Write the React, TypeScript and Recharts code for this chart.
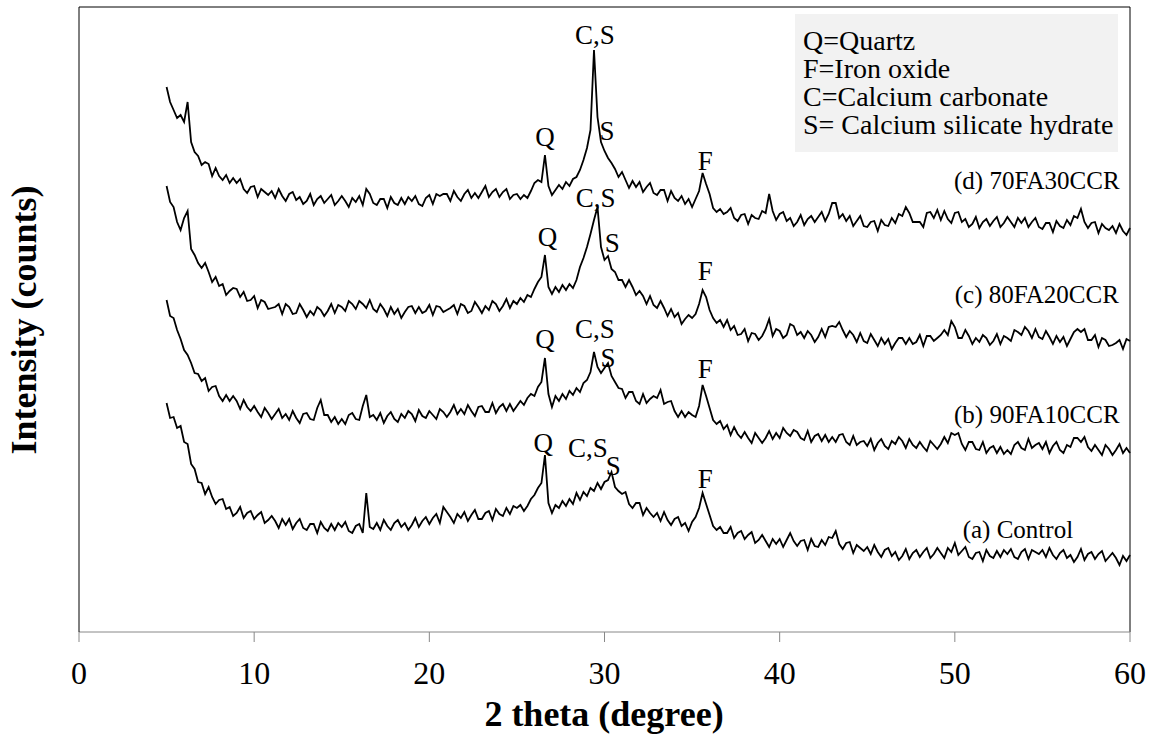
import { LineChart, Line, XAxis, YAxis, ReferenceLine, ReferenceDot } from "recharts";

// scan grid, 2 theta in degrees
const twoTheta = [
  5, 5.2, 5.4, 5.6, 5.8, 6, 6.2, 6.4, 6.6, 6.8,
  7, 7.2, 7.4, 7.6, 7.8, 8, 8.2, 8.4, 8.6, 8.8,
  9, 9.2, 9.4, 9.6, 9.8, 10, 10.2, 10.4, 10.6, 10.8,
  11, 11.2, 11.4, 11.6, 11.8, 12, 12.2, 12.4, 12.6, 12.8,
  13, 13.2, 13.4, 13.6, 13.8, 14, 14.2, 14.4, 14.6, 14.8,
  15, 15.2, 15.4, 15.6, 15.8, 16, 16.2, 16.4, 16.6, 16.8,
  17, 17.2, 17.4, 17.6, 17.8, 18, 18.2, 18.4, 18.6, 18.8,
  19, 19.2, 19.4, 19.6, 19.8, 20, 20.2, 20.4, 20.6, 20.8,
  21, 21.2, 21.4, 21.6, 21.8, 22, 22.2, 22.4, 22.6, 22.8,
  23, 23.2, 23.4, 23.6, 23.8, 24, 24.2, 24.4, 24.6, 24.8,
  25, 25.2, 25.4, 25.6, 25.8, 26, 26.2, 26.4, 26.6, 26.8,
  27, 27.2, 27.4, 27.6, 27.8, 28, 28.2, 28.4, 28.6, 28.8,
  29, 29.2, 29.4, 29.6, 29.8, 30, 30.2, 30.4, 30.6, 30.8,
  31, 31.2, 31.4, 31.6, 31.8, 32, 32.2, 32.4, 32.6, 32.8,
  33, 33.2, 33.4, 33.6, 33.8, 34, 34.2, 34.4, 34.6, 34.8,
  35, 35.2, 35.4, 35.6, 35.8, 36, 36.2, 36.4, 36.6, 36.8,
  37, 37.2, 37.4, 37.6, 37.8, 38, 38.2, 38.4, 38.6, 38.8,
  39, 39.2, 39.4, 39.6, 39.8, 40, 40.2, 40.4, 40.6, 40.8,
  41, 41.2, 41.4, 41.6, 41.8, 42, 42.2, 42.4, 42.6, 42.8,
  43, 43.2, 43.4, 43.6, 43.8, 44, 44.2, 44.4, 44.6, 44.8,
  45, 45.2, 45.4, 45.6, 45.8, 46, 46.2, 46.4, 46.6, 46.8,
  47, 47.2, 47.4, 47.6, 47.8, 48, 48.2, 48.4, 48.6, 48.8,
  49, 49.2, 49.4, 49.6, 49.8, 50, 50.2, 50.4, 50.6, 50.8,
  51, 51.2, 51.4, 51.6, 51.8, 52, 52.2, 52.4, 52.6, 52.8,
  53, 53.2, 53.4, 53.6, 53.8, 54, 54.2, 54.4, 54.6, 54.8,
  55, 55.2, 55.4, 55.6, 55.8, 56, 56.2, 56.4, 56.6, 56.8,
  57, 57.2, 57.4, 57.6, 57.8, 58, 58.2, 58.4, 58.6, 58.8,
  59, 59.2, 59.4, 59.6, 59.8, 60,
];

// (a) Control
const control = [
  229, 214, 215, 204, 206, 190, 188, 168, 163, 150,
  149, 138, 145, 135, 128, 132, 133, 123, 125, 116,
  119, 125, 114, 119, 121, 113, 117, 120, 109, 112,
  116, 111, 104, 113, 107, 113, 103, 109, 113, 104,
  102, 108, 108, 99, 110, 104, 101, 108, 102, 109,
  105, 110, 101, 99, 106, 108, 99, 139, 105, 103,
  109, 102, 112, 106, 102, 109, 112, 105, 109, 102,
  107, 114, 105, 111, 115, 108, 114, 118, 109, 125,
  120, 115, 109, 118, 114, 120, 111, 117, 122, 113,
  113, 119, 121, 112, 123, 118, 116, 124, 118, 126,
  124, 127, 121, 126, 133, 137, 144, 149, 177, 129,
  119, 127, 124, 131, 126, 133, 128, 139, 132, 140,
  136, 144, 141, 149, 143, 150, 152, 160, 145, 141,
  138, 140, 128, 124, 129, 129, 117, 124, 119, 115,
  119, 111, 120, 112, 107, 113, 115, 106, 109, 101,
  110, 115, 124, 139, 128, 117, 106, 102, 105, 99,
  99, 105, 94, 99, 101, 93, 97, 100, 89, 92,
  97, 91, 85, 93, 88, 93, 85, 92, 99, 91,
  86, 91, 92, 82, 93, 86, 85, 92, 87, 95,
  94, 101, 88, 83, 89, 90, 79, 87, 84, 81,
  85, 78, 87, 80, 75, 82, 84, 76, 80, 72,
  76, 83, 73, 79, 82, 75, 80, 84, 74, 78,
  84, 79, 74, 84, 80, 89, 77, 81, 85, 75,
  73, 79, 80, 71, 82, 76, 74, 81, 75, 82,
  78, 83, 75, 73, 80, 83, 73, 82, 80, 78,
  82, 75, 84, 77, 73, 79, 82, 74, 77, 70,
  75, 83, 72, 78, 80, 73, 78, 81, 71, 75,
  79, 74, 67, 76, 71, 77,
];

// (b) 90FA10CCR
const fa90 = [
  332, 316, 314, 302, 293, 282, 277, 269, 259, 258,
  251, 254, 241, 245, 246, 236, 231, 237, 231, 236,
  231, 223, 232, 225, 221, 226, 220, 215, 224, 219,
  213, 218, 223, 214, 218, 212, 221, 214, 209, 218,
  219, 213, 212, 224, 232, 217, 217, 210, 215, 208,
  213, 208, 217, 219, 213, 212, 226, 237, 215, 217,
  212, 219, 209, 216, 220, 213, 210, 218, 214, 221,
  218, 211, 222, 216, 214, 221, 217, 213, 223, 220,
  215, 220, 227, 218, 223, 218, 227, 221, 216, 225,
  226, 220, 220, 229, 219, 225, 228, 221, 228, 221,
  226, 231, 227, 234, 238, 236, 245, 250, 274, 238,
  225, 236, 231, 238, 233, 241, 237, 244, 240, 249,
  252, 260, 280, 265, 259, 264, 269, 256, 250, 244,
  243, 234, 240, 240, 231, 228, 238, 229, 233, 236,
  234, 242, 228, 230, 231, 221, 215, 221, 215, 220,
  217, 215, 226, 247, 236, 224, 212, 208, 211, 203,
  207, 197, 205, 198, 194, 200, 194, 189, 199, 194,
  189, 194, 201, 193, 199, 194, 204, 199, 196, 202,
  200, 194, 192, 201, 190, 196, 198, 191, 197, 190,
  195, 190, 197, 198, 190, 187, 196, 187, 190, 191,
  186, 193, 182, 189, 193, 186, 183, 191, 188, 195,
  191, 184, 193, 187, 184, 190, 185, 181, 191, 187,
  183, 188, 195, 189, 199, 197, 199, 188, 182, 190,
  190, 183, 182, 190, 179, 184, 186, 179, 185, 178,
  182, 178, 187, 190, 184, 182, 193, 184, 187, 189,
  183, 190, 179, 186, 190, 182, 179, 187, 185, 194,
  194, 190, 195, 185, 181, 187, 182, 177, 187, 183,
  177, 182, 188, 179, 184, 179,
];

// (c) 80FA20CCR
const fa80 = [
  446, 430, 425, 410, 402, 414, 421, 383, 377, 369,
  364, 369, 360, 350, 355, 346, 348, 337, 341, 344,
  343, 335, 340, 331, 332, 336, 324, 332, 330, 323,
  324, 325, 328, 318, 328, 325, 318, 319, 328, 322,
  315, 321, 317, 325, 322, 316, 321, 328, 319, 327,
  325, 321, 331, 328, 323, 331, 328, 324, 332, 323,
  320, 328, 323, 316, 325, 318, 323, 314, 320, 325,
  326, 319, 325, 319, 321, 327, 317, 326, 325, 320,
  322, 324, 327, 318, 328, 326, 319, 321, 330, 325,
  319, 326, 322, 331, 328, 321, 326, 333, 324, 331,
  328, 334, 330, 337, 335, 343, 350, 355, 377, 345,
  338, 345, 340, 347, 342, 348, 344, 352, 365, 374,
  385, 398, 412, 425, 385, 372, 376, 363, 360, 352,
  352, 345, 352, 345, 337, 341, 336, 328, 336, 327,
  324, 331, 324, 316, 323, 315, 319, 308, 313, 317,
  314, 318, 328, 342, 335, 322, 314, 309, 312, 305,
  312, 302, 306, 297, 298, 303, 291, 299, 298, 292,
  296, 303, 313, 296, 303, 301, 294, 297, 308, 306,
  297, 300, 294, 301, 297, 290, 295, 303, 295, 305,
  306, 305, 310, 302, 295, 301, 297, 290, 299, 291,
  289, 298, 292, 286, 294, 288, 293, 283, 289, 294,
  294, 288, 294, 288, 290, 297, 286, 296, 296, 291,
  294, 297, 302, 297, 311, 305, 294, 294, 302, 296,
  288, 294, 290, 297, 294, 287, 291, 298, 288, 296,
  294, 291, 302, 300, 297, 305, 301, 294, 303, 295,
  293, 301, 295, 288, 296, 290, 295, 286, 293, 300,
  303, 300, 303, 292, 292, 297, 285, 294, 292, 286,
  287, 289, 292, 283, 293, 291,
];

// (d) 70FA30CCR
const fa70 = [
  545, 530, 522, 514, 517, 510, 530, 490, 480, 476,
  467, 470, 468, 456, 464, 456, 452, 457, 449, 454,
  449, 453, 443, 439, 445, 446, 435, 443, 440, 437,
  441, 434, 443, 436, 431, 438, 440, 432, 435, 428,
  431, 438, 427, 433, 436, 429, 433, 437, 427, 431,
  436, 431, 425, 434, 430, 436, 427, 443, 438, 429,
  427, 433, 433, 424, 435, 429, 427, 434, 428, 435,
  431, 436, 428, 426, 434, 437, 428, 438, 436, 438,
  438, 431, 441, 435, 431, 438, 442, 434, 439, 434,
  440, 446, 435, 440, 443, 435, 440, 443, 433, 437,
  438, 433, 437, 434, 441, 449, 452, 450, 477, 446,
  437, 442, 447, 443, 450, 446, 453, 455, 462, 472,
  484, 502, 582, 515, 490, 481, 474, 469, 463, 455,
  460, 452, 444, 451, 445, 450, 440, 445, 449, 439,
  437, 442, 442, 431, 441, 434, 431, 436, 428, 433,
  425, 433, 441, 459, 448, 438, 424, 420, 423, 418,
  420, 424, 414, 411, 417, 418, 408, 417, 414, 413,
  421, 419, 438, 421, 412, 418, 420, 411, 414, 406,
  410, 417, 407, 413, 416, 410, 415, 420, 411, 418,
  429, 429, 414, 418, 411, 416, 406, 411, 416, 406,
  405, 410, 411, 401, 412, 407, 406, 414, 409, 418,
  416, 425, 419, 410, 410, 410, 405, 419, 420, 414,
  422, 412, 421, 413, 409, 419, 420, 410, 413, 405,
  408, 415, 404, 410, 413, 406, 411, 415, 405, 409,
  415, 410, 405, 414, 409, 414, 405, 410, 414, 405,
  403, 409, 409, 400, 411, 406, 404, 412, 407, 416,
  414, 423, 410, 404, 409, 410, 399, 408, 404, 402,
  406, 399, 408, 401, 397, 404,
];

const xTicks = [0, 10, 20, 30, 40, 50, 60];

// phase marks above the peaks
const peakMarks = [
  { x: 29.45, y: 598, text: "C,S" },
  { x: 26.6, y: 496, text: "Q" },
  { x: 30.15, y: 502, text: "S" },
  { x: 35.75, y: 472, text: "F" },
  { x: 29.5, y: 435, text: "C,S" },
  { x: 26.75, y: 396, text: "Q" },
  { x: 30.45, y: 390, text: "S" },
  { x: 35.75, y: 362, text: "F" },
  { x: 29.45, y: 304, text: "C,S" },
  { x: 26.6, y: 294, text: "Q" },
  { x: 30.2, y: 275, text: "S" },
  { x: 35.75, y: 264, text: "F" },
  { x: 29.05, y: 185, text: "C,S" },
  { x: 26.5, y: 190, text: "Q" },
  { x: 30.5, y: 167, text: "S" },
  { x: 35.75, y: 154, text: "F" },
];

const sampleNames = [
  { x: 54.68, y: 452, text: "(d) 70FA30CCR" },
  { x: 54.68, y: 338, text: "(c) 80FA20CCR" },
  { x: 54.68, y: 218, text: "(b) 90FA10CCR" },
  { x: 53.6, y: 103, text: "(a) Control" },
];

const legendLines = [
  "Q=Quartz",
  "F=Iron oxide",
  "C=Calcium carbonate",
  "S= Calcium silicate hydrate",
];

const serif = "'Liberation Serif', 'Times New Roman', serif";

const data = twoTheta.map((x, i) => ({
  x,
  a: control[i],
  b: fa90[i],
  c: fa80[i],
  d: fa70[i],
}));

export default function App() {
  return (
    <div style={{ position: "absolute", left: 0, top: 0, width: 1154, height: 736, background: "#fff" }}>
      <LineChart width={1154} height={736} data={data} margin={{ top: 7, right: 24, bottom: 0, left: 0 }}>
        <XAxis
          dataKey="x"
          type="number"
          domain={[0, 60]}
          ticks={xTicks}
          stroke="#888"
          tickSize={10}
          tickMargin={19}
          height={104}
          tick={{ fill: "#000", fontSize: 32, fontFamily: serif }}
        />
        <YAxis domain={[0, 625]} width={79} tick={false} tickLine={false} axisLine={{ stroke: "#000" }} />
        <ReferenceLine y={625} stroke="#000" />
        <ReferenceLine x={60} stroke="#000" />
        {["d", "c", "b", "a"].map((k) => (
          <Line
            key={k}
            dataKey={k}
            type="linear"
            stroke="#000"
            strokeWidth={1.8}
            dot={false}
            isAnimationActive={false}
          />
        ))}
        {peakMarks.map((p, i) => (
          <ReferenceDot
            key={"p" + i}
            x={p.x}
            y={p.y}
            r={0}
            fill="none"
            stroke="none"
            label={{ value: p.text, position: "center", fontSize: 27, fill: "#000", fontFamily: serif }}
          />
        ))}
        {sampleNames.map((s, i) => (
          <ReferenceDot
            key={"s" + i}
            x={s.x}
            y={s.y}
            r={0}
            fill="none"
            stroke="none"
            label={{ value: s.text, position: "center", fontSize: 25, fill: "#000", fontFamily: serif }}
          />
        ))}
      </LineChart>

      <div
        style={{
          position: "absolute",
          left: 795,
          top: 14,
          width: 323,
          height: 138,
          boxSizing: "border-box",
          background: "#f2f2f2",
          padding: "13px 0 0 8px",
          fontFamily: serif,
          fontSize: 28,
          lineHeight: "28px",
          whiteSpace: "nowrap",
        }}
      >
        {legendLines.map((t) => (
          <div key={t}>{t}</div>
        ))}
      </div>

      <div
        style={{
          position: "absolute",
          left: 604,
          top: 714,
          transform: "translate(-50%, -50%)",
          fontFamily: serif,
          fontWeight: "bold",
          fontSize: 36,
          lineHeight: 1,
          whiteSpace: "nowrap",
        }}
      >
        2 theta (degree)
      </div>
      <div
        style={{
          position: "absolute",
          left: 24,
          top: 320,
          transform: "translate(-50%, -50%) rotate(-90deg)",
          fontFamily: serif,
          fontWeight: "bold",
          fontSize: 36,
          lineHeight: 1,
          whiteSpace: "nowrap",
        }}
      >
        Intensity (counts)
      </div>
    </div>
  );
}
